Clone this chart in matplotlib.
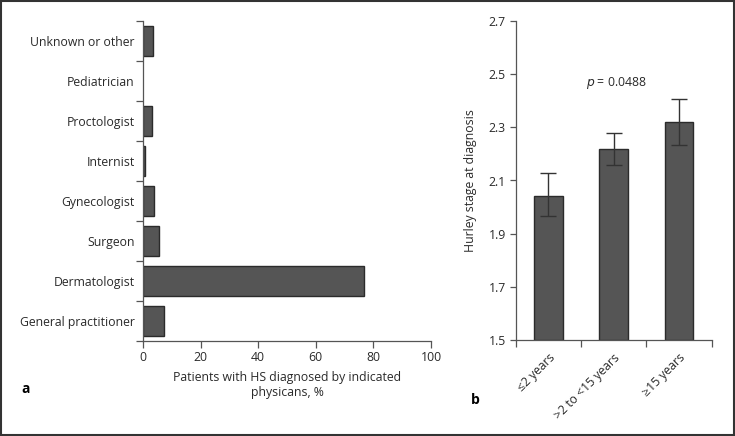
import matplotlib
matplotlib.use("Agg")
import matplotlib.pyplot as plt
from matplotlib.patches import Rectangle

plt.rcParams['font.family'] = ['Open Sans', 'DejaVu Sans']

physicians = ["General practitioner", "Dermatologist", "Surgeon", "Gynecologist",
              "Internist", "Proctologist", "Pediatrician", "Unknown or other"]
percent = [7.3, 76.8, 5.7, 3.7, 0.6, 3.2, 0.0, 3.5]
x_ticks_a = [0, 20, 40, 60, 80, 100]

groups = ["≤2 years", ">2 to <15 years", "≥15 years"]
hurley = [2.04, 2.22, 2.32]
err_low = [0.075, 0.06, 0.085]
err_high = [0.09, 0.06, 0.087]
y_ticks_b = [1.5, 1.7, 1.9, 2.1, 2.3, 2.5, 2.7]

W, H = 735, 436
fig = plt.figure(figsize=(W / 100, H / 100), dpi=100)

bar_color = "#555555"
edge_color = "#2b2b2b"
spine_color = "#555555"
text_color = "#2a2a2a"
fs = 8.8

# Panel a
axa = fig.add_axes([143 / W, (H - 341) / H, 288 / W, 320 / H])
ypos = list(range(len(physicians)))
lws = [1.0 if v > 0 else 0.0 for v in percent]
axa.barh(ypos, percent, height=0.73, color=bar_color, edgecolor=edge_color, linewidth=lws)
axa.set_ylim(-0.5, len(physicians) - 0.5)
axa.set_xlim(0, 100)
axa.set_yticks(ypos)
axa.set_yticklabels(physicians, fontsize=fs, color=text_color)
axa.tick_params(axis='y', which='major', length=0, pad=6)
axa.set_yticks([i - 0.5 for i in range(len(physicians) + 1)], minor=True)
axa.tick_params(axis='y', which='minor', length=5, width=0.9, color=spine_color)
axa.set_xticks(x_ticks_a)
axa.set_xticklabels([str(v) for v in x_ticks_a], fontsize=fs, color=text_color)
axa.tick_params(axis='x', length=5, width=0.9, color=spine_color, pad=2)
axa.set_xlabel("Patients with HS diagnosed by indicated\nphysicans, %", fontsize=fs,
               color=text_color, labelpad=5, linespacing=1.2)
for s in ["top", "right"]:
    axa.spines[s].set_visible(False)
for s in ["left", "bottom"]:
    axa.spines[s].set_color(spine_color)
    axa.spines[s].set_linewidth(0.9)

# Panel b
axb = fig.add_axes([515.5 / W, (H - 340) / H, 196.2 / W, 319 / H])
xpos = list(range(len(groups)))
axb.bar(xpos, [v - 1.5 for v in hurley], bottom=1.5, width=0.44, color=bar_color,
        edgecolor=edge_color, linewidth=1.0, zorder=2)
axb.errorbar(xpos, hurley, yerr=[err_low, err_high], fmt='none', ecolor="#333333",
             elinewidth=1.0, capsize=6, capthick=1.0, zorder=3)
axb.set_xlim(-0.5, len(groups) - 0.5)
axb.set_ylim(1.5, 2.7)
axb.set_yticks(y_ticks_b)
axb.set_yticklabels([f"{v:.1f}" for v in y_ticks_b], fontsize=fs, color=text_color)
axb.tick_params(axis='y', length=4, width=0.9, color=spine_color, pad=3)
axb.set_xticks(xpos)
axb.set_xticklabels(groups, fontsize=fs, color=text_color, rotation=45,
                    ha='right', va='top', rotation_mode='anchor')
axb.tick_params(axis='x', which='major', length=0, pad=8)
axb.set_xticks([i - 0.5 for i in range(len(groups) + 1)], minor=True)
axb.tick_params(axis='x', which='minor', length=5, width=0.9, color=spine_color)
axb.set_ylabel("Hurley stage at diagnosis", fontsize=fs, color=text_color, labelpad=8)
for s in ["top", "right"]:
    axb.spines[s].set_visible(False)
for s in ["left", "bottom"]:
    axb.spines[s].set_color(spine_color)
    axb.spines[s].set_linewidth(0.9)
axb.text(1.05, 2.465, "$p$ = 0.0488", fontsize=fs, ha='center', va='center', color=text_color)

# Panel letters
fig.text(26 / W, 1 - 389 / H, "a", fontsize=10, fontweight='bold', ha='center', va='center')
fig.text(475 / W, 1 - 400 / H, "b", fontsize=10, fontweight='bold', ha='center', va='center')

# Frame
fig.patches.append(Rectangle((0.001, 0.002), 0.997, 0.995, transform=fig.transFigure,
                             fill=False, edgecolor="#333333", linewidth=1.5))

fig.savefig("out.png", dpi=100)
